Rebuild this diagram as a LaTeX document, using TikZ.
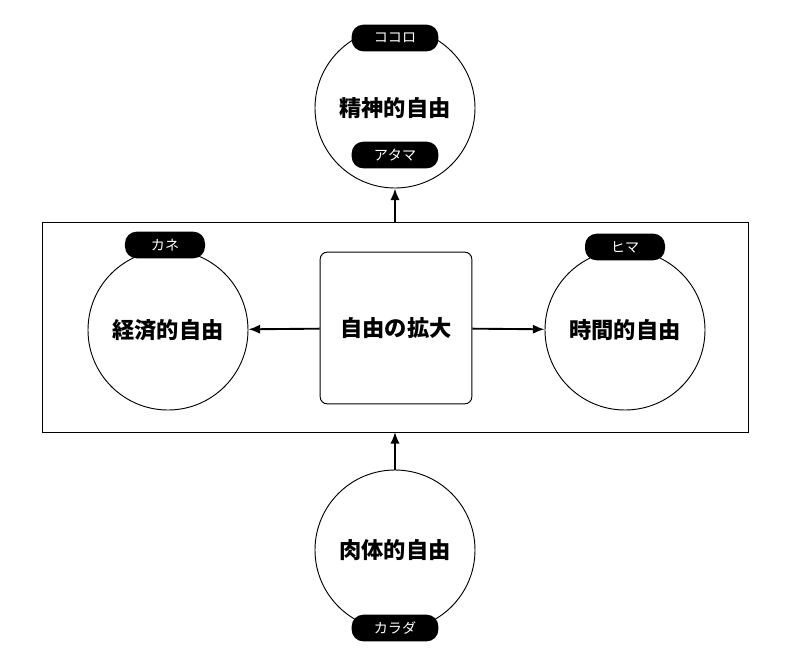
\documentclass[tikz,border=0pt]{standalone}
\usepackage{fontspec}
\newfontfamily\jp{Noto Sans CJK JP}
\usetikzlibrary{positioning,arrows.meta}
\begin{document}
\begin{tikzpicture}[x=0.03cm,y=-0.03cm,
  realm/.style={circle,draw,thick,minimum size=4.8cm,inner sep=0pt,font=\jp\bfseries\fontsize{19}{19}\selectfont},
  tag/.style={fill=black,text=white,rounded corners=10pt,minimum width=2.6cm,minimum height=0.8cm,inner sep=0pt,font=\jp\fontsize{12}{12}\selectfont},
  link/.style={-{Latex[length=3.5mm,width=2.8mm]},line width=1.6pt}]
  \useasboundingbox (0,0) rectangle (800,662);
  % outer frame
  \draw[thick] (42,222) rectangle (748,432);
  \coordinate (frametop) at (395,222);
  \coordinate (framebot) at (395,432);
  % centre
  \node[draw,thick,rounded corners=6pt,minimum size=4.55cm,font=\jp\bfseries\fontsize{19}{19}\selectfont] (core) at (396,328) {自由の拡大};
  % the four freedoms
  \node[realm] (mind) at (395,108) {精神的自由};
  \node[realm] (money) at (168,330) {経済的自由};
  \node[realm] (time) at (625,330) {時間的自由};
  \node[realm] (body) at (395,550) {肉体的自由};
  % tags
  \node[tag] at (395,38) {ココロ};
  \node[tag] at (395,155) {アタマ};
  \node[tag,minimum width=2.4cm] at (165,245) {カネ};
  \node[tag,minimum width=2.4cm] at (625,247) {ヒマ};
  \node[tag] at (395,628) {カラダ};
  % arrows
  \draw[link] (core) -- (money);
  \draw[link] (core) -- (time);
  \draw[link] (frametop) -- (mind);
  \draw[link] (body) -- (framebot);
\end{tikzpicture}
\end{document}
